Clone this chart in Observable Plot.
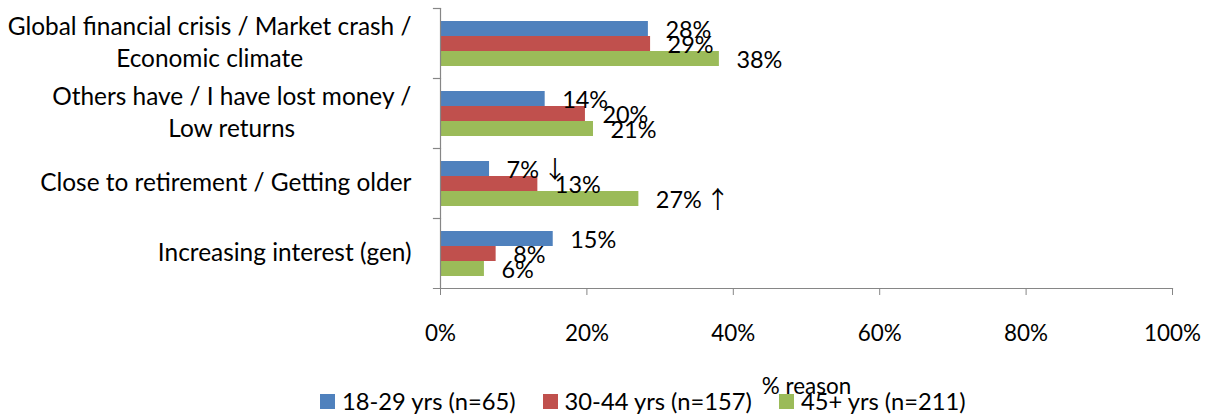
<!DOCTYPE html>
<html>
<head>
<meta charset="utf-8">
<script src="https://cdn.jsdelivr.net/npm/d3@7"></script>
<script src="https://cdn.jsdelivr.net/npm/@observablehq/plot@0.6"></script>
<style>
  html, body { margin: 0; padding: 0; background: #fff; }
  #wrap { position: relative; width: 1208px; height: 419px; overflow: hidden; }
  #wrap svg { position: absolute; left: 0; top: 0; }
  .legend { position: absolute; left: 320px; top: 391px; display: flex; align-items: center; gap: 27px; line-height: 20px; color: #000; white-space: nowrap; }
  .legend .item { display: flex; align-items: center; gap: 7px; }
  .legend .sw { display: inline-block; width: 15px; height: 15px; }
</style>
</head>
<body>
<div id="wrap"></div>
<script>
// ---- data ----
const categories = [
  "Global financial crisis / Market crash /\nEconomic climate",
  "Others have / I have lost money /\nLow returns",
  "Close to retirement / Getting older",
  "Increasing interest (gen)"
];
const series = ["18-29 yrs (n=65)", "30-44 yrs (n=157)", "45+ yrs (n=211)"];
const values1829 = [28.4, 14.3, 6.7, 15.4];
const values3044 = [28.7, 19.8, 13.3, 7.6];
const values45   = [38.1, 20.9, 27.1, 6.0];
const flags1829 = ["", "", "↓", ""];
const flags3044 = ["", "", "", ""];
const flags45   = ["", "", "↑", ""];
const xTicks = [0, 20, 40, 60, 80, 100];
const xLabel = "% reason";
const colors = ["#4F81BD", "#C0504D", "#9BBB59"];

// ---- styling helpers ----
const FONT = "Lato, 'DejaVu Sans', sans-serif";
const ARROW_FONT = "'Noto Sans CJK SC', 'DejaVu Sans', sans-serif";
const AXIS = "#868686";
const ctx = document.createElement("canvas").getContext("2d");
function textWidth(str, size, family = FONT) { ctx.font = `${size}px ${family}`; return ctx.measureText(str).width; }
function fitSize(str, target) { return 100 * target / textWidth(str, 100); }

const catSize = fitSize("Global financial crisis / Market crash /", 404);
const tickSize = fitSize("20%", 44);
const dataSize = fitSize("38%", 46);
const legendSize = fitSize("30-44 yrs (n=157)", 188);
const arrowSize = 24;

// ---- table ----
const seriesValues = [values1829, values3044, values45];
const seriesFlags = [flags1829, flags3044, flags45];
const rows = series.flatMap((s, j) => categories.map((c, i) => ({
  category: c,
  series: s,
  value: seriesValues[j][i],
  label: Math.round(seriesValues[j][i]) + "%",
  flag: seriesFlags[j][i]
})));

// ---- layout ----
const W = 1208, H = 419, ML = 440, MR = 36, MT = 7, plotBottom = 288.5;
const LABEL_DX = 17;

const catMarks = categories.map(c => {
  const wmax = d3.max(c.split("\n"), line => textWidth(line, catSize));
  return Plot.text([c], {
    fy: d => d,
    text: d => d,
    frameAnchor: "left",
    textAnchor: "middle",
    dx: -(29 + wmax / 2),
    dy: -3,
    lineHeight: 32 / catSize,
    fontSize: catSize,
    fill: "#000"
  });
});

const flagMarks = rows.filter(r => r.flag).map(r => Plot.text([r], {
  x: "value", y: "series", fy: "category", text: "flag",
  dx: LABEL_DX + textWidth(r.label, dataSize) + 4,
  dy: 1,
  textAnchor: "start",
  fontFamily: ARROW_FONT,
  fontSize: arrowSize,
  fill: "#000"
}));

const chart = Plot.plot({
  width: W,
  height: H,
  marginLeft: ML,
  marginRight: MR,
  marginTop: MT,
  marginBottom: H - plotBottom,
  style: { fontFamily: FONT, color: "#000", background: "transparent", overflow: "visible" },
  x: { domain: [0, 100] },
  y: { domain: series, paddingInner: 0, paddingOuter: 0.72, axis: null },
  fy: { domain: categories, padding: 0, axis: null },
  color: { domain: series, range: colors },
  marks: [
    Plot.barX(rows, { x: "value", y: "series", fy: "category", fill: "series" }),
    Plot.ruleX([0], { stroke: AXIS, strokeWidth: 1.2 }),
    Plot.frame({ anchor: "top", stroke: AXIS, strokeWidth: 1.2, insetLeft: -7, insetRight: W - ML - MR }),
    Plot.frame({ anchor: "bottom", stroke: AXIS, strokeWidth: 1.2, insetLeft: -7, fy: () => categories[categories.length - 1] }),
    Plot.axisX({
      ticks: xTicks,
      tickFormat: d => d + "%",
      tickSize: 7,
      tickPadding: 30,
      stroke: AXIS,
      fill: "#000",
      fontSize: tickSize,
      label: xLabel,
      labelAnchor: "center",
      labelOffset: 105,
      labelArrow: "none"
    }),
    ...catMarks,
    Plot.text(rows, {
      x: "value", y: "series", fy: "category", text: "label",
      dx: LABEL_DX, dy: 1, textAnchor: "start", fontSize: dataSize, fill: "#000"
    }),
    ...flagMarks
  ]
});

const wrap = document.getElementById("wrap");
wrap.appendChild(chart);

// ---- legend (HTML, below the plot area) ----
const legend = d3.select(wrap).append("div").attr("class", "legend")
  .style("font-family", FONT).style("font-size", legendSize + "px");
series.forEach((s, i) => {
  const item = legend.append("div").attr("class", "item");
  item.append("span").attr("class", "sw").style("background", colors[i]);
  item.append("span").text(s);
});
</script>
</body>
</html>
